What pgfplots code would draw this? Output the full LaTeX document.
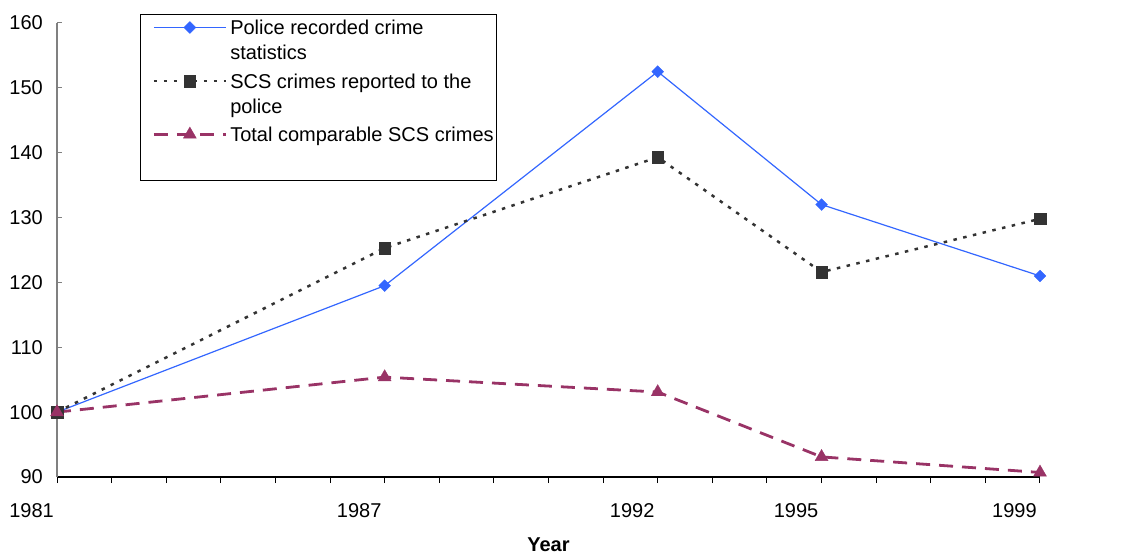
\documentclass[border=0pt]{standalone}
\usepackage{fontspec}
\setmainfont{Liberation Sans}
\usepackage{pgfplots}
\pgfplotsset{compat=1.18}
\definecolor{policeblue}{HTML}{3366FF}
\definecolor{scsgray}{HTML}{333333}
\definecolor{scspurple}{HTML}{993366}

\begin{document}
\begin{tikzpicture}
\useasboundingbox (0,0) rectangle (1133bp,555bp);
\begin{axis}[
  at={(57bp,78bp)}, anchor=south west,
  scale only axis, width=983bp, height=454bp,
  xmin=1981, xmax=1999, ymin=90, ymax=160,
  axis x line*=bottom, axis y line*=left,
  x axis line style={black, line width=1.2bp, -},
  y axis line style={gray, line width=1.2bp, -},
  xtick={1981,...,1999},
  xticklabels={1981,,,,,,1987,,,,,1992,,,1995,,,,1999},
  ytick={90,100,...,160},
  xtick align=outside, ytick align=inside,
  x tick style={black, line width=1bp, /pgfplots/major tick length=6bp},
  y tick style={gray, line width=1bp, /pgfplots/major tick length=5bp},
  font=\fontsize{20bp}{25bp}\selectfont,
  /pgf/number format/assume math mode=true,
  xticklabel style={anchor=north east, inner sep=0pt, yshift=-22bp, xshift=-3bp},
  yticklabel style={anchor=east, inner sep=0pt, xshift=-14bp},
  xlabel={\textbf{Year}},
  xlabel style={at={(axis description cs:0.5,0)}, anchor=center, yshift=-68bp},
  clip=false,
  legend style={at={(0.0844,1.0198)}, anchor=north west, draw=black,
    line width=1bp, fill=white, font=\fontsize{20bp}{25bp}\selectfont,
    inner xsep=1bp, inner ysep=3.5bp, row sep=8bp,
    cells={anchor=north west, align=left, inner xsep=0pt, inner ysep=2bp}},
  legend image code/.code={
    \path (-11bp,-9.5bp) (73bp,-9.5bp);
    \draw[mark repeat=2,mark phase=2, yshift=-9.5bp]
    plot coordinates {(0bp,0bp)(36bp,0bp)(72bp,0bp)};},
]
\addplot[color=policeblue, line width=1.2bp, mark=square*, mark size=4.2bp,
  mark options={rotate=45, solid, fill=policeblue, line width=0.3bp}]
  coordinates {(1981,100) (1987,119.5) (1992,152.5) (1995,132) (1999,121)};
\addlegendentry{Police recorded crime\\statistics}
\addplot[color=scsgray, line width=2.5bp, dash pattern=on 3.5bp off 6.5bp,
  mark=square*, mark size=5.7bp,
  mark options={solid, fill=scsgray, line width=0.3bp}]
  coordinates {(1981,100) (1987,125.3) (1992,139.3) (1995,121.6) (1999,129.8)};
\addlegendentry{SCS crimes reported to the\\police}
\addplot[color=scspurple, line width=2.8bp, dash pattern=on 14bp off 9bp,
  mark=triangle*, mark size=7.5bp,
  mark options={solid, fill=scspurple, line width=0.3bp}]
  coordinates {(1981,100) (1987,105.4) (1992,103.1) (1995,93.1) (1999,90.7)};
\addlegendentry{Total comparable SCS crimes\\[7bp]\mbox{}}
\end{axis}
\end{tikzpicture}
\end{document}
